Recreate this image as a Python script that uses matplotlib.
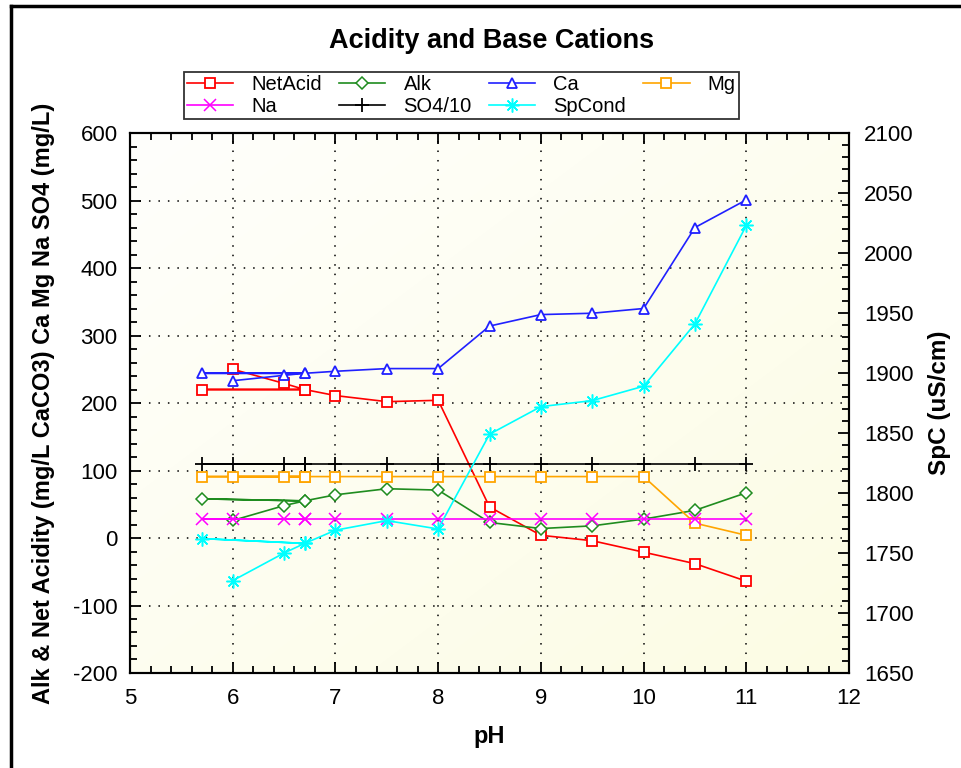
import matplotlib
matplotlib.use("Agg")
import numpy as np
import matplotlib.pyplot as plt
from matplotlib.lines import Line2D
from matplotlib.ticker import MultipleLocator
from matplotlib.colors import LinearSegmentedColormap

plt.rcParams['font.family'] = ['Liberation Sans', 'DejaVu Sans']
plt.rcParams['axes.unicode_minus'] = False

# sample order as plotted (6.7 appears twice: the 5.7 sample links back to it)
ph = [6.0, 6.5, 6.7, 5.7, 6.7, 7.0, 7.5, 8.0, 8.5, 9.0, 9.5, 10.0, 10.5, 11.0]

net_acid = [250, 229, 220, 220, 220, 211, 202, 204, 46, 4, -4, -21, -38, -64]
alk = [26, 48, 55, 58, 55, 64, 73, 71, 23, 14, 18, 28, 41, 67]
ca = [233, 241, 244, 244, 244, 247, 251, 251, 314, 331, 333, 340, 460, 501]
mg = [91, 91, 91, 91, 91, 91, 91, 91, 91, 91, 91, 91, 22, 4]
na = [28, 28, 28, 28, 28, 28, 28, 28, 28, 28, 28, 28, 28, 28]
so4_10 = [109, 109, 109, 109, 109, 109, 109, 109, 109, 109, 109, 109, 109, 109]
spcond = [1727, 1750, 1758, 1762, 1758, 1769, 1777, 1770, 1849, 1872, 1877, 1889, 1941, 2023]

fig = plt.figure(figsize=(9.61, 7.68), dpi=100)
ax = fig.add_axes([0.1353, 0.1237, 0.7482, 0.7031])
ax2 = ax.twinx()

# soft white -> cream diagonal fill of the plot area
gx, gy = np.meshgrid(np.linspace(0, 1, 64), np.linspace(0, 1, 64))
cream = LinearSegmentedColormap.from_list('cream', ['#fffffc', '#fcfce4'])
ax.imshow((gx + gy) / 2, extent=[0, 1, 0, 1], transform=ax.transAxes, cmap=cream,
          aspect='auto', origin='upper', zorder=0, interpolation='bilinear')

lw = 1.2
h_net, = ax.plot(ph, net_acid, color='#ff0000', lw=lw, marker='s', ms=7.5, mfc='white', mew=1.3, label='NetAcid')
h_alk, = ax.plot(ph, alk, color='#1f8c1f', lw=lw, marker='D', ms=6, mfc='white', mew=1.1, label='Alk')
h_ca, = ax.plot(ph, ca, color='#2020ff', lw=lw, marker='^', ms=7.5, mfc='white', mew=1.3, label='Ca')
h_mg, = ax.plot(ph, mg, color='#ffa500', lw=lw, marker='s', ms=7.5, mfc='white', mew=1.3, label='Mg')
h_na, = ax.plot(ph, na, color='#ff00ff', lw=lw, marker='x', ms=9, mew=1.1, label='Na')
h_so4, = ax.plot(ph, so4_10, color='black', lw=lw, marker='+', ms=10, mew=1.3, label='SO4/10')
h_sp, = ax2.plot(ph, spcond, color='#00ffff', lw=lw, marker=(8, 2, 0), ms=10, mew=1.1, label='SpCond')

ax.set_xlim(5, 12)
ax.set_ylim(-200, 600)
ax2.set_ylim(1650, 2100)

ax.xaxis.set_major_locator(MultipleLocator(1))
ax.xaxis.set_minor_locator(MultipleLocator(0.2))
ax.yaxis.set_major_locator(MultipleLocator(100))
ax.yaxis.set_minor_locator(MultipleLocator(20))
ax2.yaxis.set_major_locator(MultipleLocator(50))
ax2.yaxis.set_minor_locator(MultipleLocator(10))

ax.tick_params(axis='both', which='both', direction='in', top=True, right=False, labelsize=16, width=1.3)
ax.tick_params(which='major', length=8)
ax.tick_params(which='minor', length=5)
ax.tick_params(axis='y', which='major', pad=9)
ax.tick_params(axis='x', which='major', pad=11)
ax2.tick_params(axis='y', which='both', direction='in', labelsize=16, width=1.3)
ax2.tick_params(which='major', length=8, pad=11)
ax2.tick_params(which='minor', length=5)

ax.grid(True, which='major', linestyle=(0, (1, 5.2)), color='black', lw=1.1)
for a in (ax, ax2):
    for s in a.spines.values():
        s.set_linewidth(1.5)

ax.set_xlabel('pH', fontsize=17, fontweight='bold', labelpad=11)
ax.set_ylabel('Alk & Net Acidity (mg/L CaCO3) Ca Mg Na SO4 (mg/L)', fontsize=17, fontweight='bold', labelpad=13)
ax2.set_ylabel('SpC (uS/cm)', fontsize=17.5, fontweight='bold', labelpad=10)
fig.text(0.511, 0.947, 'Acidity and Base Cations', ha='center', va='center', fontsize=19.5, fontweight='bold')

# legend rows: NetAcid Alk Ca Mg / Na SO4/10 SpCond (matplotlib fills by column)
handles = [h_net, h_na, h_alk, h_so4, h_ca, h_sp, h_mg]
leg = fig.legend(handles=handles, loc='upper center', bbox_to_anchor=(0.48, 0.906), ncol=4,
                 fontsize=14.5, frameon=True, fancybox=False, edgecolor='black',
                 borderpad=0.15, borderaxespad=0, handlelength=2.3, columnspacing=0.85,
                 labelspacing=0.12, handletextpad=0.9)
leg.get_frame().set_linewidth(1.3)

# window frame lines
fig.add_artist(Line2D([0.011, 1.0], [0.992, 0.992], color='black', lw=2.5))
fig.add_artist(Line2D([0.011, 0.011], [0.0, 0.992], color='black', lw=2.5))

fig.savefig('out.png', dpi=100)
